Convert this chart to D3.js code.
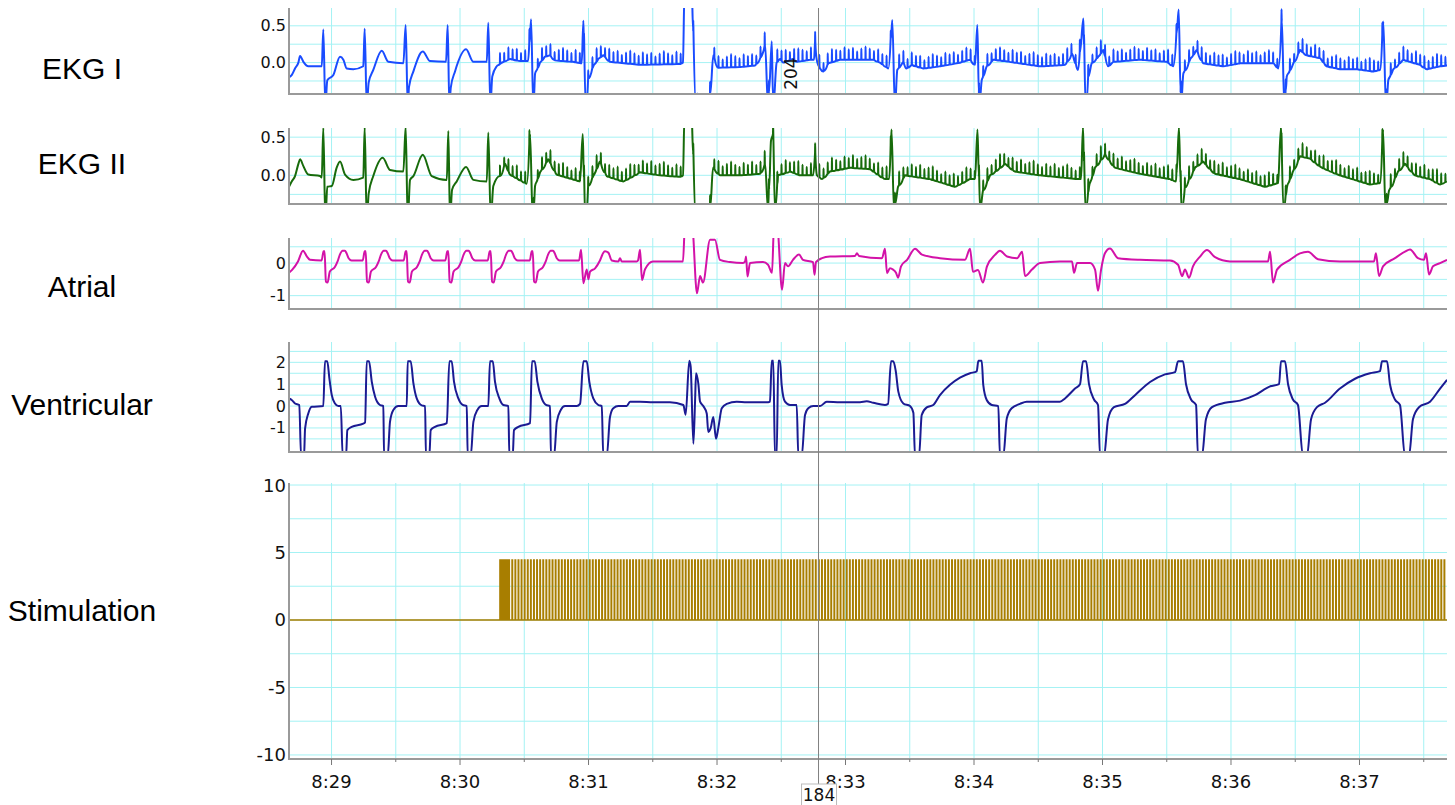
<!DOCTYPE html>
<html>
<head>
<meta charset="utf-8">
<script src="https://cdn.jsdelivr.net/npm/d3@7"></script>
<style>
  body { margin: 0; background: #fff; }
  svg { display: block; font-family: "DejaVu Sans", sans-serif; }
</style>
</head>
<body>
<svg id="chart" width="1455" height="805"></svg>
<script>
// ---- data (time = seconds after 8:00) ----
const MINUTE = 8;
const timeRange = [28.669, 37.681];
const timeTicks = [29, 30, 31, 32, 33, 34, 35, 36, 37];
const seriesNames = ["EKG I", "EKG II", "Atrial", "Ventricular", "Stimulation"];
const ekgTicks = [0.5, 0.0];
const atrialTicks = [0, -1];
const ventricularTicks = [2, 1, 0, -1];
const stimTicks = [10, 5, 0, -5, -10];

const ekg1Knots = [
  [28.669,-0.2],[28.690,-0.17],[28.716,-0.08],[28.742,0.0],[28.755,0.09],[28.781,0.01],[28.819,-0.05],[28.924,-0.05],
  [28.936,0.45],[28.952,-0.6],[28.967,-0.24],[29.014,-0.17],[29.066,0.08],[29.092,0.04],[29.118,-0.08],[29.170,-0.09],[29.247,-0.05],
  [29.258,0.46],[29.274,-0.6],[29.289,-0.27],[29.325,-0.1],[29.391,0.16],[29.442,0.01],[29.559,-0.01],
  [29.577,0.51],[29.593,-0.6],[29.603,-0.33],[29.637,-0.12],[29.710,0.15],[29.767,0.02],[29.891,0.01],
  [29.904,0.51],[29.917,-0.6],[29.928,-0.34],[29.961,-0.12],[30.047,0.18],[30.104,0.01],[30.208,0.01],
  [30.220,0.54],[30.236,-0.6],[30.251,-0.19],[30.286,-0.05],[30.325,0.0],[30.389,0.05],[30.467,0.02],[30.529,0.02],
  [30.553,0.59],[30.570,-0.6],[30.584,-0.15],[30.623,0.0],[30.661,0.08],[30.700,0.1],[30.739,0.03],[30.879,0.01],[30.947,-0.01],
  [30.960,0.57],[30.978,-0.6],[30.999,-0.19],[31.037,-0.05],[31.076,0.05],[31.115,0.1],[31.167,0.01],[31.401,-0.03],[31.712,-0.02],
  [31.735,0.0],[31.747,1.0],[31.803,1.0],[31.837,-0.6],[31.938,-0.6],[31.971,0.1],[32.008,-0.07],[32.179,-0.06],[32.296,-0.04],
  [32.350,0.1],[32.374,0.25],[32.397,-0.6],[32.426,0.29],[32.438,-0.6],[32.464,0.0],[32.490,0.05],[32.514,0.0],[32.591,0.05],[32.620,0.01],
  [32.724,0.04],[32.755,0.04],[32.763,0.29],[32.776,0.04],[32.802,-0.08],[32.827,-0.12],[32.866,-0.01],[32.957,0.04],[33.216,0.04],[33.268,0.0],
  [33.333,-0.08],[33.364,0.58],[33.385,-0.6],[33.403,-0.1],[33.450,0.01],[33.476,-0.08],[33.515,-0.03],[33.605,-0.08],[33.735,-0.05],[33.865,-0.01],[33.969,0.04],
  [34.008,-0.03],[34.026,0.51],[34.041,-0.6],[34.060,-0.24],[34.099,-0.05],[34.150,0.04],[34.241,0.02],[34.514,-0.05],[34.708,-0.03],
  [34.763,0.12],[34.809,-0.1],[34.851,0.6],[34.869,-0.6],[34.889,-0.19],[34.916,-0.01],[34.967,0.08],[35.006,0.17],[35.045,-0.05],[35.084,0.01],[35.292,0.04],[35.500,0.01],
  [35.551,-0.05],[35.593,0.72],[35.611,-0.6],[35.629,-0.15],[35.681,0.04],[35.733,0.17],[35.784,-0.01],[35.940,-0.05],[36.070,-0.01],[36.329,-0.01],
  [36.368,-0.08],[36.395,0.6],[36.415,-0.6],[36.434,-0.19],[36.485,-0.01],[36.537,0.17],[36.589,0.1],[36.693,0.06],[36.745,-0.05],[36.848,-0.09],[36.978,-0.09],[37.107,-0.12],
  [37.160,-0.1],[37.185,0.56],[37.206,-0.6],[37.224,-0.24],[37.263,-0.09],[37.341,0.04],[37.393,0.01],[37.471,-0.03],[37.523,-0.09],[37.627,-0.05],[37.681,-0.04]
];

const ekg2Knots = [
  [28.669,-0.15],[28.690,-0.08],[28.716,-0.01],[28.742,0.15],[28.755,0.21],[28.781,0.12],[28.819,0.01],[28.911,-0.01],[28.924,-0.03],
  [28.936,0.62],[28.952,-0.6],[28.967,-0.15],[29.002,-0.14],[29.040,0.1],[29.066,0.18],[29.105,0.01],[29.170,-0.06],[29.247,-0.03],
  [29.258,0.63],[29.274,-0.6],[29.289,-0.24],[29.325,-0.01],[29.398,0.23],[29.455,0.07],[29.559,0.05],
  [29.577,0.64],[29.593,-0.6],[29.611,-0.06],[29.637,-0.01],[29.710,0.27],[29.780,-0.01],[29.897,-0.06],
  [29.909,0.58],[29.922,-0.6],[29.938,-0.19],[29.974,-0.08],[30.047,0.11],[30.104,-0.06],[30.208,-0.08],
  [30.220,0.56],[30.239,-0.6],[30.259,-0.14],[30.311,-0.01],[30.350,0.15],[30.389,0.01],[30.519,-0.11],
  [30.545,0.54],[30.566,-0.6],[30.584,-0.14],[30.623,0.04],[30.687,0.21],[30.753,0.01],[30.934,-0.08],
  [30.955,0.54],[30.975,-0.6],[30.999,-0.11],[31.037,-0.01],[31.089,0.18],[31.142,-0.01],[31.271,-0.08],[31.401,0.04],[31.556,0.0],[31.712,-0.02],
  [31.735,0.0],[31.747,0.8],[31.802,0.8],[31.837,-0.6],[31.938,-0.6],[31.969,0.1],[32.023,0.0],[32.179,0.0],[32.335,0.02],
  [32.374,0.15],[32.397,-0.45],[32.420,0.45],[32.436,0.58],[32.451,-0.45],[32.475,0.0],[32.568,0.05],[32.646,0.0],[32.747,0.0],
  [32.763,0.3],[32.778,0.0],[32.817,-0.05],[32.879,0.05],[33.035,0.1],[33.191,0.08],[33.307,-0.05],[33.339,-0.05],
  [33.358,0.6],[33.377,-0.45],[33.409,-0.15],[33.463,0.0],[33.658,-0.05],[33.852,-0.15],[33.969,-0.05],[34.008,-0.05],
  [34.027,0.6],[34.047,-0.45],[34.070,-0.2],[34.125,0.0],[34.241,0.15],[34.319,0.05],[34.514,0.0],[34.809,-0.05],[34.833,-0.05],
  [34.848,0.63],[34.868,-0.45],[34.895,-0.15],[34.942,0.1],[35.019,0.28],[35.097,0.1],[35.292,0.02],[35.525,-0.05],[35.572,-0.08],
  [35.595,0.63],[35.615,-0.45],[35.642,-0.15],[35.720,0.1],[35.782,0.18],[35.876,0.02],[36.070,-0.05],[36.265,-0.15],[36.366,-0.1],
  [36.389,0.63],[36.409,-0.45],[36.436,-0.15],[36.482,0.05],[36.537,0.25],[36.615,0.22],[36.708,0.1],[36.848,0.0],[37.082,-0.12],[37.160,-0.1],
  [37.183,0.6],[37.202,-0.45],[37.230,-0.2],[37.300,0.05],[37.354,0.15],[37.432,0.0],[37.549,-0.05],[37.627,-0.12],[37.681,-0.08]
];

// pacing artifacts seen on both EKG leads
const pacingStart = 30.311;
const ekgArtifactPeriod = 0.0327;
const ekg1ArtifactAmps = [0.15, 0.12, 0.17, 0.14, 0.16, 0.11, 0.15, 0.18];
const ekg2ArtifactAmps = [0.14, 0.11, 0.16, 0.13, 0.17, 0.12, 0.15, 0.18];

// atrial: sinus beats share one shape, the rest is traced point by point
const atrialLead = [[28.669,-0.3],[28.693,-0.21],[28.739,0.05],[28.778,0.38],[28.809,0.2],[28.833,0.1]];
const atrialBeatTimes = [28.946, 29.266, 29.585, 29.909, 30.239, 30.566];
const atrialBeatShape = [[-0.023,0.08],[-0.008,0.36],[0,0.36],[0.010,-0.57],[0.023,-0.6],[0.041,-0.26],[0.080,-0.12],
  [0.101,0.05],[0.119,0.26],[0.140,0.38],[0.158,0.38],[0.171,0.3],[0.187,0.15],[0.210,0.08]];
const atrialKnots = [
  [30.926,0.08],[30.942,0.41],[30.960,-0.62],[30.986,-0.2],[30.999,-0.5],[31.012,-0.26],[31.051,-0.16],[31.089,0.08],[31.113,0.3],
  [31.128,0.36],[31.154,0.32],[31.181,0.08],[31.232,0.05],[31.245,0.15],[31.259,0.05],[31.375,0.05],[31.385,0.08],[31.401,0.41],
  [31.416,-0.52],[31.440,-0.19],[31.502,0.05],[31.735,0.05],[31.751,1.2],[31.805,1.2],[31.844,-0.93],[31.868,-0.4],[31.891,-0.6],
  [31.946,0.72],[31.984,0.72],[32.023,0.1],[32.101,0.03],[32.202,0.0],[32.218,0.05],[32.226,0.2],[32.237,-0.41],[32.257,0.0],
  [32.358,0.03],[32.397,-0.05],[32.428,-0.3],[32.444,1.2],[32.467,1.2],[32.506,-0.82],[32.529,0.0],[32.553,-0.1],[32.591,0.1],
  [32.638,0.26],[32.669,0.1],[32.747,0.03],[32.759,-0.36],[32.770,0.03],[32.817,0.15],[32.879,0.2],[33.074,0.22],[33.089,0.3],
  [33.105,0.22],[33.284,0.15],[33.307,0.44],[33.323,-0.31],[33.346,-0.16],[33.370,-0.2],[33.393,-0.3],[33.409,-0.45],[33.432,-0.1],
  [33.479,0.1],[33.541,0.44],[33.595,0.26],[33.735,0.15],[33.930,0.1],[33.969,0.44],[33.992,-0.27],[34.031,-0.21],[34.070,-0.6],
  [34.101,-0.1],[34.163,0.25],[34.202,0.38],[34.257,0.2],[34.335,0.15],[34.374,0.35],[34.397,-0.4],[34.451,-0.2],[34.514,0.0],
  [34.669,0.05],[34.763,0.05],[34.778,-0.3],[34.802,0.0],[34.903,0.0],[34.942,-0.2],[34.965,-0.85],[34.989,-0.2],[35.019,0.3],
  [35.058,0.45],[35.121,0.15],[35.292,0.1],[35.525,0.08],[35.588,-0.05],[35.619,-0.4],[35.642,-0.2],[35.673,-0.45],[35.704,-0.1],
  [35.759,0.2],[35.813,0.4],[35.876,0.18],[35.992,0.05],[36.288,0.05],[36.304,0.35],[36.327,-0.6],[36.358,-0.2],[36.459,0.1],
  [36.537,0.3],[36.599,0.35],[36.677,0.12],[36.848,0.05],[37.113,0.05],[37.128,0.3],[37.152,-0.4],[37.183,-0.1],[37.276,0.15],
  [37.354,0.35],[37.393,0.42],[37.455,0.15],[37.502,0.1],[37.518,0.3],[37.541,-0.35],[37.572,-0.1],[37.627,0.0],[37.681,0.1]
];

const ventricularKnots = [
  [28.669,0.35],[28.690,0.28],[28.716,0.12],[28.749,0.05],[28.763,-2.3],[28.786,-2.3],[28.794,-1.03],[28.819,-0.34],[28.846,-0.03],[28.936,0.0],
  [28.949,2.05],[28.967,2.05],[28.983,1.28],[29.002,0.5],[29.027,0.12],[29.053,0.0],[29.072,0.0],[29.087,-2.3],[29.113,-2.3],[29.123,-1.1],[29.157,-0.95],[29.247,-0.8],[29.261,-0.75],
  [29.274,2.05],[29.292,2.05],[29.313,1.12],[29.339,0.43],[29.377,0.05],[29.403,0.0],[29.409,-2.3],[29.437,-2.3],[29.455,-0.72],[29.481,-0.18],[29.520,0.0],[29.585,0.0],
  [29.593,2.05],[29.616,2.05],[29.637,1.05],[29.663,0.35],[29.702,0.03],[29.728,0.0],[29.735,-2.3],[29.761,-2.3],[29.772,-1.1],[29.805,-0.95],[29.897,-0.78],
  [29.917,2.05],[29.935,2.05],[29.953,1.12],[29.987,0.35],[30.021,0.05],[30.052,0.0],[30.060,-2.3],[30.083,-2.3],[30.104,-0.72],[30.135,-0.18],[30.169,0.0],[30.220,0.0],
  [30.233,2.05],[30.255,2.05],[30.272,1.12],[30.306,0.35],[30.337,0.05],[30.376,0.0],[30.384,-2.3],[30.410,-2.3],[30.420,-1.1],[30.454,-0.95],[30.545,-0.78],
  [30.560,2.05],[30.581,2.05],[30.602,1.12],[30.636,0.35],[30.669,0.05],[30.700,0.0],[30.708,-2.3],[30.732,-2.3],[30.753,-0.72],[30.784,-0.18],[30.817,0.0],[30.908,0.0],[30.934,0.1],
  [30.960,2.05],[30.986,2.05],[31.006,1.12],[31.037,0.35],[31.076,0.05],[31.103,0.0],[31.115,-2.3],[31.142,-2.3],[31.167,-0.5],[31.193,-0.1],[31.232,0.0],[31.297,0.0],[31.323,0.2],
  [31.401,0.2],[31.502,0.18],[31.634,0.18],[31.738,0.05],[31.756,-0.4],[31.784,2.07],[31.795,1.8],[31.816,-1.72],[31.829,0.2],[31.837,1.5],[31.855,1.0],[31.868,0.2],
  [31.893,0.0],[31.920,-0.34],[31.932,-1.18],[31.951,-1.0],[31.971,-0.5],[31.992,-1.49],[32.010,-1.0],[32.037,-0.1],[32.076,0.1],[32.153,0.2],[32.231,0.18],[32.399,0.18],
  [32.412,0.2],[32.426,2.07],[32.438,2.07],[32.451,-2.3],[32.464,-2.3],[32.477,2.07],[32.490,2.07],[32.503,0.97],[32.529,0.2],[32.568,0.05],[32.620,0.05],
  [32.633,-2.3],[32.659,-2.3],[32.685,-0.41],[32.710,-0.1],[32.749,0.0],[32.802,0.0],[32.854,0.2],[32.957,0.18],[33.113,0.18],[33.165,0.22],[33.216,0.15],[33.307,0.05],
  [33.331,0.1],[33.354,2.05],[33.372,2.05],[33.391,1.6],[33.411,0.66],[33.450,0.12],[33.502,0.0],[33.528,-0.3],[33.541,-2.3],[33.572,-2.3],[33.593,-0.41],[33.632,-0.06],
  [33.683,0.05],[33.735,0.5],[33.813,0.97],[33.891,1.3],[33.969,1.5],[34.021,1.59],[34.034,2.07],[34.060,2.07],[34.072,0.97],[34.099,0.28],[34.138,0.05],[34.189,0.0],
  [34.202,-2.3],[34.228,-2.3],[34.255,-0.57],[34.293,-0.1],[34.358,0.1],[34.410,0.2],[34.669,0.2],[34.708,0.35],[34.786,0.8],[34.825,1.0],
  [34.848,2.05],[34.872,2.05],[34.895,1.0],[34.934,0.3],[34.965,0.05],[34.981,-2.3],[35.012,-2.3],[35.043,-0.6],[35.089,-0.05],[35.175,0.1],[35.253,0.5],[35.370,1.1],[35.486,1.45],[35.564,1.55],
  [35.588,2.05],[35.626,2.05],[35.650,1.0],[35.689,0.3],[35.728,0.05],[35.743,-2.3],[35.774,-2.3],[35.805,-0.6],[35.852,-0.05],[35.953,0.15],[36.070,0.25],[36.187,0.5],[36.304,0.9],[36.374,1.0],
  [36.389,2.05],[36.420,2.05],[36.444,1.0],[36.482,0.3],[36.521,0.05],[36.560,-2.3],[36.591,-2.3],[36.623,-0.6],[36.669,-0.05],[36.732,0.15],[36.848,0.8],[36.965,1.25],[37.082,1.5],[37.160,1.6],
  [37.175,2.05],[37.214,2.05],[37.237,1.0],[37.276,0.3],[37.315,0.05],[37.354,-2.3],[37.385,-2.3],[37.416,-0.6],[37.463,-0.05],[37.549,0.2],[37.627,0.8],[37.681,1.2]
];

// stimulation pulse train
const stimOnset = 30.311;
const stimBlockEnd = 30.381;
const stimBlockPeriod = 0.005;
const stimPeriod = 0.0241;
const stimPulseWidth = 0.003;
const stimAmplitude = 4.44;

// cursor and annotations
const cursorTime = 32.79;
const cursorLabel = "184";
const markerTime = 32.62;
const markerValue = -0.37;
const markerLabel = "204";

// ---- build series ----
function interp(knots, t) {
  const i = d3.bisector(d => d[0]).right(knots, t);
  if (i <= 0) return knots[0][1];
  if (i >= knots.length) return knots[knots.length - 1][1];
  const a = knots[i - 1], b = knots[i];
  return a[1] + (b[1] - a[1]) * (t - a[0]) / (b[0] - a[0]);
}

function withArtifacts(knots, amps) {
  const pts = knots.slice();
  let k = 0;
  for (let t = pacingStart; t < timeRange[1]; t += ekgArtifactPeriod, k++) {
    const base = interp(knots, t);
    pts.push([t - 0.0008, base], [t, base + amps[k % amps.length]], [t + 0.0015, base]);
  }
  return pts.sort((a, b) => a[0] - b[0]);
}

const ekg1 = withArtifacts(ekg1Knots, ekg1ArtifactAmps);
const ekg2 = withArtifacts(ekg2Knots, ekg2ArtifactAmps);

const atrial = atrialLead
  .concat(...atrialBeatTimes.map(bt => atrialBeatShape.map(s => [bt + s[0], s[1]])))
  .concat(atrialKnots)
  .sort((a, b) => a[0] - b[0]);

const stim = [[timeRange[0], 0]];
for (let t = stimOnset; t < stimBlockEnd; t += stimBlockPeriod) {
  stim.push([t, 0], [t, stimAmplitude], [t + stimBlockPeriod / 2, stimAmplitude], [t + stimBlockPeriod / 2, 0]);
}
for (let t = stimBlockEnd + stimPeriod; t < timeRange[1]; t += stimPeriod) {
  stim.push([t, 0], [t, stimAmplitude], [t + stimPulseWidth, stimAmplitude], [t + stimPulseWidth, 0]);
}
stim.push([timeRange[1], 0]);

// ---- layout ----
const plotLeft = 289, plotRight = 1447;
const panels = [
  { data: ekg1, top: 8, bottom: 94, domain: [-0.427, 0.742], grid: 0.25, ticks: ekgTicks, fmt: v => v.toFixed(1), color: "#1a4cff", labelY: 68, tickSize: 16 },
  { data: ekg2, top: 128, bottom: 204, domain: [-0.376, 0.62], grid: 0.25, ticks: ekgTicks, fmt: v => v.toFixed(1), color: "#176b0b", labelY: 163, tickSize: 16 },
  { data: atrial, top: 238, bottom: 309, domain: [-1.41, 0.77], grid: 0.5, ticks: atrialTicks, fmt: v => String(v), color: "#d312a8", labelY: 286, tickSize: 16 },
  { data: ventricularKnots, top: 342, bottom: 452, domain: [-2.1, 2.93], grid: 0.5, ticks: ventricularTicks, fmt: v => String(v), color: "#1b1b93", labelY: 404, tickSize: 16 },
  { data: stim, top: 483, bottom: 759, domain: [-10.3, 10.15], grid: 2.5, ticks: stimTicks, fmt: v => String(v), color: "#a87e00", labelY: 610, tickSize: 18, stim: true }
];

const svg = d3.select("#chart");
const x = d3.scaleLinear().domain(timeRange).range([plotLeft, plotRight]);
const halfSeconds = d3.range(28.5, 38, 0.5).filter(t => t > timeRange[0] && t < timeRange[1]);

panels.forEach((p, i) => {
  const y = d3.scaleLinear().domain(p.domain).range([p.bottom, p.top]);
  const g = svg.append("g");

  //grid
  const hVals = d3.range(Math.ceil(p.domain[0] / p.grid) * p.grid, p.domain[1] + 1e-9, p.grid)
    .filter(v => y(v) < p.bottom - 3);
  g.append("g").selectAll("line").data(hVals).enter().append("line")
    .attr("x1", plotLeft).attr("x2", plotRight)
    .attr("y1", d => y(d)).attr("y2", d => y(d))
    .attr("stroke", "#a4f2f4").attr("stroke-width", 1);
  g.append("g").selectAll("line").data(halfSeconds).enter().append("line")
    .attr("x1", d => x(d)).attr("x2", d => x(d))
    .attr("y1", p.top).attr("y2", p.bottom)
    .attr("stroke", "#a4f2f4").attr("stroke-width", 1);

  //trace
  const clipId = "clip" + i;
  svg.append("clipPath").attr("id", clipId).append("rect")
    .attr("x", plotLeft).attr("y", p.top).attr("width", plotRight - plotLeft).attr("height", p.bottom - p.top);
  const line = d3.line().x(d => x(d[0])).y(d => y(d[1]));
  if (!p.stim) line.curve(d3.curveMonotoneX);
  g.append("path")
    .datum(p.data)
    .attr("clip-path", `url(#${clipId})`)
    .attr("fill", "none")
    .attr("stroke", p.color)
    .attr("stroke-width", p.stim ? 1.6 : 2)
    .attr("stroke-linejoin", p.stim ? "miter" : "round")
    .attr("d", line);

  //axes lines
  g.append("line").attr("x1", plotLeft).attr("x2", plotLeft).attr("y1", p.top).attr("y2", p.bottom + 1)
    .attr("stroke", "#9a9a9a").attr("stroke-width", 2);
  g.append("line").attr("x1", plotLeft).attr("x2", plotRight).attr("y1", p.bottom).attr("y2", p.bottom)
    .attr("stroke", "#9a9a9a").attr("stroke-width", 2);

  //tick labels
  g.append("g").selectAll("text").data(p.ticks).enter().append("text")
    .attr("x", plotLeft - 3).attr("y", d => y(d))
    .attr("text-anchor", "end").attr("dominant-baseline", "central")
    .attr("font-size", p.tickSize).attr("fill", "#111")
    .text(p.fmt);

  //series name
  svg.append("text")
    .attr("x", 82).attr("y", p.labelY)
    .attr("text-anchor", "middle").attr("dominant-baseline", "central")
    .attr("font-family", "'Liberation Sans', Arial, sans-serif")
    .attr("font-size", 30).attr("fill", "#000")
    .text(seriesNames[i]);

  if (p.stim) {
    g.append("g").selectAll("line").data(halfSeconds).enter().append("line")
      .attr("x1", d => x(d)).attr("x2", d => x(d))
      .attr("y1", p.bottom).attr("y2", d => p.bottom + (Number.isInteger(d) ? 6 : 3))
      .attr("stroke", "#777").attr("stroke-width", 1);
    g.append("g").selectAll("text").data(timeTicks).enter().append("text")
      .attr("x", d => x(d)).attr("y", 788)
      .attr("text-anchor", "middle").attr("font-size", 18).attr("fill", "#111")
      .text(d => `${MINUTE}:${d3.format("02")(d)}`);
  }

  if (i === 0) {
    g.append("text")
      .attr("transform", `translate(${x(markerTime)},${y(markerValue)}) rotate(-90)`)
      .attr("font-size", 17).attr("fill", "#111")
      .text(markerLabel);
  }
});

// cursor
const cx = x(cursorTime);
svg.append("line").attr("x1", cx).attr("x2", cx).attr("y1", 8).attr("y2", 786)
  .attr("stroke", "#808080").attr("stroke-width", 1);
svg.append("rect").attr("x", cx - 17).attr("y", 784).attr("width", 35).attr("height", 22)
  .attr("fill", "#fff").attr("stroke", "#bbb");
svg.append("text").attr("x", cx + 0.5).attr("y", 801).attr("text-anchor", "middle")
  .attr("font-size", 17).attr("fill", "#111").text(cursorLabel);
</script>
</body>
</html>
